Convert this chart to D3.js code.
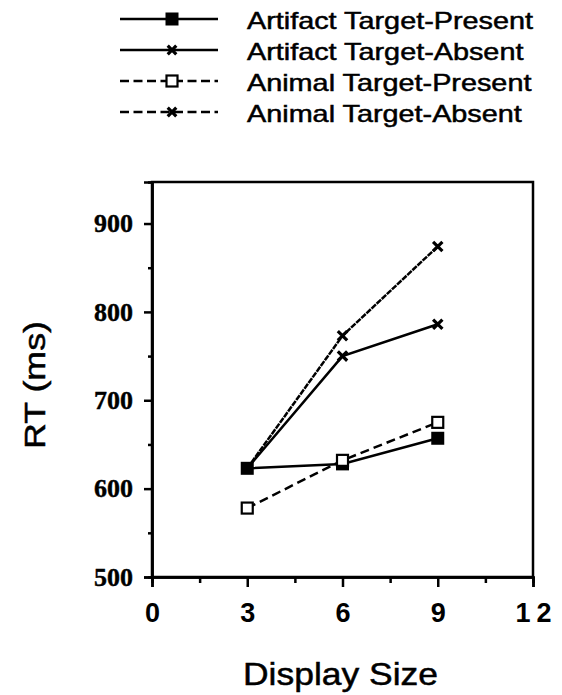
<!DOCTYPE html>
<html>
<head>
<meta charset="utf-8">
<script src="https://cdn.jsdelivr.net/npm/d3@7"></script>
<style>
  body { margin: 0; background: #fff; }
  svg { display: block; }
</style>
</head>
<body>
<div id="chart"></div>
<script>
// Data
const displaySizes = [3, 6, 9];
const artifactPresent = [623, 628, 657];
const artifactAbsent = [623, 750, 786];
const animalPresent = [578, 632, 675];
const animalAbsent = [623, 773, 874];

const xMajorTicks = [0, 3, 6, 9, 12];
const xMinorTicks = [1.5, 4.5, 7.5, 10.5];
const yMajorTicks = [500, 600, 700, 800, 900];
const yMinorTicks = [550, 650, 750, 850];

const seriesNames = ["Artifact Target-Present", "Artifact Target-Absent", "Animal Target-Present", "Animal Target-Absent"];
const seriesValues = [artifactPresent, artifactAbsent, animalPresent, animalAbsent];

// How each series is drawn
const styles = [
    {dash: null, marker: "filled"},
    {dash: null, marker: "x"},
    {dash: "9,5", marker: "open"},
    {dash: "6,1", marker: "x"}
];

const W = 562, H = 695;
const margin = {top: 182, right: 29, bottom: 118, left: 152};
const width = W - margin.left - margin.right;
const height = H - margin.top - margin.bottom;
const sans = "Liberation Sans, Arial, Helvetica, sans-serif";

const svg = d3.select("#chart")
    .append("svg")
    .attr("width", W)
    .attr("height", H);

const g = svg.append("g")
    .attr("transform", `translate(${margin.left},${margin.top})`);

const x = d3.scaleLinear().domain([0, 12]).range([0, width]);
const y = d3.scaleLinear().domain([500, 947]).range([height, 0]);

// Frame
g.append("rect")
    .attr("width", width)
    .attr("height", height)
    .attr("fill", "none")
    .attr("stroke", "#000")
    .attr("stroke-width", 2.5);

// X axis
const xAxis = g.append("g")
    .attr("transform", `translate(0,${height})`)
    .call(d3.axisBottom(x).tickValues(xMajorTicks).tickSize(10).tickPadding(16).tickFormat(d3.format("d")));
xAxis.selectAll("text")
    .style("font-family", sans)
    .style("font-weight", "bold")
    .style("font-size", "27px")
    .attr("fill", "#000")
    .filter(d => d >= 10)
    .style("letter-spacing", "6px")
    .attr("dx", 3);
g.append("g")
    .attr("transform", `translate(0,${height})`)
    .call(d3.axisBottom(x).tickValues(xMinorTicks).tickSize(6).tickFormat(""));

// Y axis
const yAxis = g.append("g")
    .call(d3.axisLeft(y).tickValues(yMajorTicks).tickSize(8).tickPadding(11));
yAxis.selectAll("text")
    .style("font-family", "Liberation Serif, Times New Roman, serif")
    .style("font-weight", "bold")
    .style("font-size", "26px")
    .attr("fill", "#000")
    .attr("stroke", "#000")
    .attr("stroke-width", 0.4);
g.append("g")
    .call(d3.axisLeft(y).tickValues(yMinorTicks).tickSize(4).tickFormat(""));

g.selectAll(".domain").attr("stroke-width", 2.5);
g.selectAll(".tick line").attr("stroke-width", 2.5);

// Axis titles
svg.append("text")
    .attr("x", margin.left + width / 2 - 2)
    .attr("y", 685)
    .attr("text-anchor", "middle")
    .attr("textLength", 195)
    .attr("lengthAdjust", "spacingAndGlyphs")
    .attr("stroke", "#000")
    .attr("stroke-width", 0.5)
    .style("font-family", sans)
    .style("font-size", "32px")
    .text("Display Size");

svg.append("text")
    .attr("transform", `translate(45,385) rotate(-90)`)
    .attr("text-anchor", "middle")
    .attr("textLength", 128)
    .attr("lengthAdjust", "spacingAndGlyphs")
    .attr("stroke", "#000")
    .attr("stroke-width", 0.5)
    .style("font-family", sans)
    .style("font-size", "30px")
    .text("RT (ms)");

// Markers
function drawMarker(sel, type, cx, cy, s) {
    if (type === "filled") {
        sel.append("rect")
            .attr("x", cx - s / 2).attr("y", cy - s / 2)
            .attr("width", s).attr("height", s)
            .attr("fill", "#000");
    } else if (type === "open") {
        sel.append("rect")
            .attr("x", cx - s / 2 + 1).attr("y", cy - s / 2 + 1)
            .attr("width", s - 2).attr("height", s - 2)
            .attr("fill", "#fff")
            .attr("stroke", "#000")
            .attr("stroke-width", 2.2);
    } else {
        sel.append("path")
            .attr("transform", `translate(${cx},${cy})`)
            .attr("d", d3.symbol().type(d3.symbolX).size(s * 4.5)())
            .attr("fill", "none")
            .attr("stroke", "#000")
            .attr("stroke-width", 3.2);
    }
}

const line = d3.line()
    .x((d, i) => x(displaySizes[i]))
    .y(d => y(d));

// Lines, then markers
seriesValues.forEach((vals, k) => {
    g.append("path")
        .datum(vals)
        .attr("d", line)
        .attr("fill", "none")
        .attr("stroke", "#000")
        .attr("stroke-width", 2.5)
        .attr("stroke-dasharray", styles[k].dash);
});
// open squares last so they sit on top of the filled ones
[0, 1, 3, 2].forEach(k => {
    seriesValues[k].forEach((v, i) => {
        drawMarker(g, styles[k].marker, x(displaySizes[i]), y(v), 13);
    });
});

// Legend
const legend = svg.append("g");
const legendY = d3.scaleLinear().domain([0, 3]).range([19, 112]);
seriesNames.forEach((name, k) => {
    const ly = legendY(k);
    legend.append("line")
        .attr("x1", 120).attr("x2", 218)
        .attr("y1", ly).attr("y2", ly)
        .attr("stroke", "#000")
        .attr("stroke-width", 2.5)
        .attr("stroke-dasharray", styles[k].dash ? "9,4.5" : null);
    drawMarker(legend, styles[k].marker, 172, ly, styles[k].marker === "x" ? 11 : 13);
    const t = legend.append("text")
        .attr("x", 247)
        .attr("y", ly + 10)
        .attr("stroke", "#000")
        .attr("stroke-width", 0.5)
        .style("font-family", sans)
        .style("font-size", "24px")
        .text(name);
    // the scanned lettering is wider than Arial, stretch to the measured length
    const w = t.node().getComputedTextLength();
    t.attr("textLength", w * 1.2).attr("lengthAdjust", "spacingAndGlyphs");
});
</script>
</body>
</html>
